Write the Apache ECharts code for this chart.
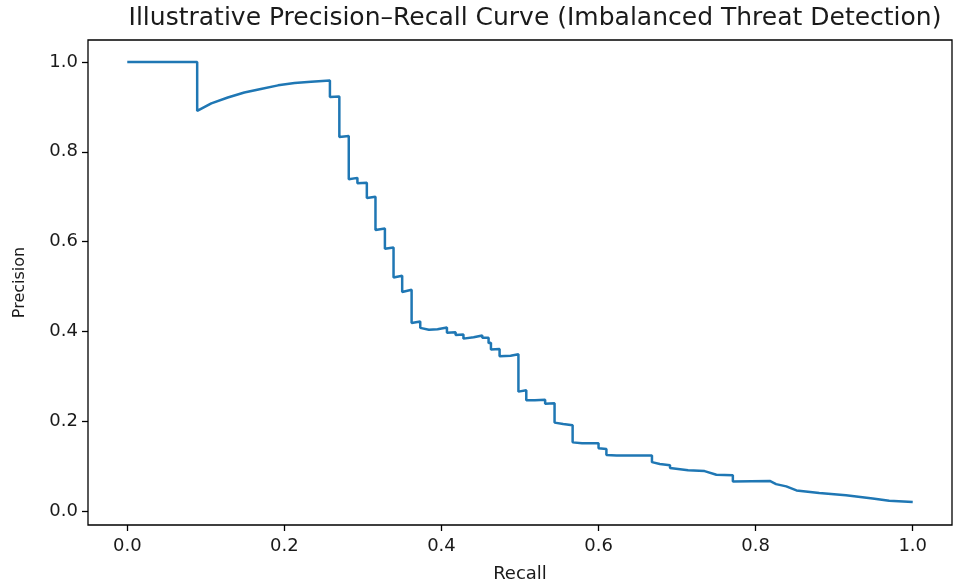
<!DOCTYPE html>
<html>
<head>
<meta charset="utf-8">
<title>Precision-Recall Curve</title>
<script src="https://cdn.jsdelivr.net/npm/echarts@6/dist/echarts.min.js"></script>
<style>
  html, body { margin: 0; padding: 0; background: #fff; }
  #chart { width: 954px; height: 588px; }
</style>
</head>
<body>
<div id="chart"></div>
<script>
// values (vertical drops repeat the recall value)
const recall = [
  0, 0.089, 0.089,
  0.107, 0.128, 0.149, 0.170, 0.192, 0.213, 0.234, 0.258,
  0.258, 0.270, 0.270, 0.282, 0.282, 0.293, 0.293, 0.305, 0.305, 0.316,
  0.316, 0.328, 0.328, 0.339, 0.339, 0.350, 0.350, 0.362, 0.362, 0.373,
  0.373, 0.384, 0.384, 0.395, 0.407, 0.407, 0.418, 0.418, 0.428, 0.428,
  0.441, 0.452, 0.452, 0.460, 0.460, 0.463, 0.463, 0.474, 0.474, 0.488,
  0.498, 0.498, 0.508, 0.508, 0.519, 0.532, 0.532, 0.544, 0.544, 0.555,
  0.567, 0.567, 0.579, 0.600, 0.600, 0.610, 0.610, 0.623, 0.668, 0.668,
  0.678, 0.691, 0.691, 0.714, 0.735, 0.750, 0.771, 0.771, 0.818, 0.826,
  0.839, 0.852, 0.881, 0.915, 0.949, 0.970, 1.0
];
const precision = [
  1.0, 1.0, 0.891,
  0.908, 0.921, 0.932, 0.940, 0.948, 0.953, 0.956, 0.959,
  0.922, 0.923, 0.833, 0.835, 0.739, 0.742, 0.730, 0.731, 0.697, 0.700,
  0.626, 0.629, 0.584, 0.587, 0.520, 0.524, 0.488, 0.493, 0.419, 0.422,
  0.408, 0.404, 0.402, 0.405, 0.409, 0.397, 0.398, 0.392, 0.393, 0.384,
  0.387, 0.391, 0.386, 0.386, 0.374, 0.375, 0.360, 0.361, 0.345, 0.346,
  0.349, 0.266, 0.269, 0.247, 0.247, 0.248, 0.239, 0.240, 0.197, 0.194,
  0.191, 0.153, 0.151, 0.151, 0.140, 0.138, 0.125, 0.124, 0.124, 0.109,
  0.105, 0.102, 0.096, 0.091, 0.089, 0.081, 0.080, 0.066, 0.067, 0.060,
  0.055, 0.046, 0.040, 0.035, 0.028, 0.023, 0.020
];
const xTicks = [0, 0.2, 0.4, 0.6, 0.8, 1.0];
const yTicks = [0, 0.2, 0.4, 0.6, 0.8, 1.0];

const font = 'DejaVu Sans';
const chart = echarts.init(document.getElementById('chart'), null, { renderer: 'canvas' });

chart.setOption({
  animation: false,
  backgroundColor: '#fff',
  textStyle: { fontFamily: font },
  title: {
    text: 'Illustrative Precision\u2013Recall Curve (Imbalanced Threat Detection)',
    left: 535,
    textAlign: 'center',
    top: 6,
    padding: 0,
    textStyle: { fontFamily: font, fontSize: 25, fontWeight: 'normal', color: '#1a1a1a' }
  },
  grid: {
    left: 88, right: 2, top: 40, bottom: 54,
    show: true, borderColor: '#000', borderWidth: 1.3,
    containLabel: false
  },
  xAxis: {
    type: 'value',
    min: -0.05, max: 1.05,
    name: 'Recall',
    nameLocation: 'middle',
    nameGap: 40,
    nameTextStyle: { fontFamily: font, fontSize: 18, color: '#1a1a1a' },
    axisLine: { show: false, onZero: false },
    splitLine: { show: false },
    axisTick: { show: true, inside: false, length: 6, customValues: xTicks, lineStyle: { color: '#000', width: 1.3 } },
    axisLabel: {
      customValues: xTicks, margin: 12, fontFamily: font, fontSize: 18, color: '#1a1a1a',
      formatter: v => v.toFixed(1)
    }
  },
  yAxis: {
    type: 'value',
    min: -0.031, max: 1.049,
    name: 'Precision',
    nameLocation: 'middle',
    nameGap: 60,
    nameTextStyle: { fontFamily: font, fontSize: 16, color: '#1a1a1a' },
    axisLine: { show: false, onZero: false },
    splitLine: { show: false },
    axisTick: { show: true, inside: false, length: 6, customValues: yTicks, lineStyle: { color: '#000', width: 1.3 } },
    axisLabel: {
      customValues: yTicks, margin: 10, fontFamily: font, fontSize: 18, color: '#1a1a1a',
      formatter: v => v.toFixed(1)
    }
  },
  series: [{
    type: 'line',
    data: recall.map((r, i) => [r, precision[i]]),
    showSymbol: false,
    lineStyle: { color: '#1f77b4', width: 2.5 },
    silent: true
  }]
});
</script>
</body>
</html>
